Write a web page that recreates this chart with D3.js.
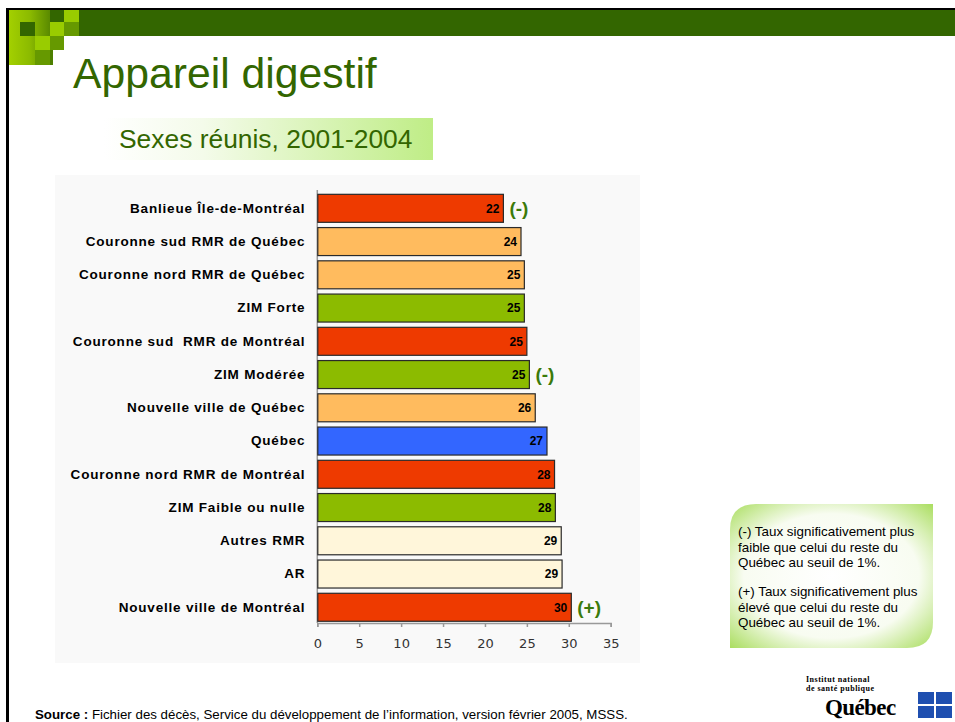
<!DOCTYPE html>
<html><head><meta charset="utf-8">
<script src="https://cdn.jsdelivr.net/npm/d3@7"></script>
<style>
html,body{margin:0;padding:0;background:#fff;}
svg{display:block;font-family:"Liberation Sans",Arial,sans-serif;}
text{white-space:pre;}
</style></head>
<body>
<script>
const categories = ["Banlieue Île-de-Montréal","Couronne sud RMR de Québec","Couronne nord RMR de Québec","ZIM Forte","Couronne sud  RMR de Montréal","ZIM Modérée","Nouvelle ville de Québec","Québec","Couronne nord RMR de Montréal","ZIM Faible ou nulle","Autres RMR","AR","Nouvelle ville de Montréal"];
const values = [22.2,24.3,24.7,24.7,25.0,25.3,26.0,27.4,28.3,28.4,29.1,29.2,30.3];
const valueLabels = ["22","24","25","25","25","25","26","27","28","28","29","29","30"];
const signif = ["(-)","","","","","(-)","","","","","","","(+)"];
const groups = ["montreal","quebec","quebec","zim","montreal","zim","quebec","province","montreal","zim","other","other","montreal"];
const groupColors = {montreal:"#ee3a00", quebec:"#ffbb5e", zim:"#8cbb00", province:"#3366ff", other:"#fff6da"};
const xTicks = [0,5,10,15,20,25,30,35];
const legendLines = [["(-) Taux significativement plus","faible que celui du reste du","Québec au seuil de 1%."],["(+) Taux significativement plus","élevé que celui du reste du","Québec au seuil de 1%."]];

const W=955,H=722;
const svg=d3.select("body").append("svg").attr("width",W).attr("height",H);
const defs=svg.append("defs");

// frame
svg.append("rect").attr("x",8).attr("y",10).attr("width",W-8).attr("height",26).attr("fill","#336600");
svg.append("rect").attr("x",6).attr("y",8).attr("width",W-6).attr("height",2).attr("fill","#000");
svg.append("rect").attr("x",6).attr("y",8).attr("width",3).attr("height",H-8).attr("fill","#000");

// logo squares
const lg=defs.append("linearGradient").attr("id","lg").attr("x1","0").attr("x2","1").attr("y1","0").attr("y2","0");
lg.append("stop").attr("offset","0").attr("stop-color","#a3d000");
lg.append("stop").attr("offset","0.5").attr("stop-color","#8cbb00");
lg.append("stop").attr("offset","1").attr("stop-color","#5a8a00");
svg.append("rect").attr("x",9).attr("y",10).attr("width",41).attr("height",55).attr("fill","url(#lg)");
const sq=[[20,22,15,14,"#336600"],[50,10,14,12,"#336600"],[64,10,15,12,"#99cc00"],[50,22,14,14,"#99cc00"],[64,22,15,14,"#669900"],[50,36,14,14,"#669900"],[35,36,15,14,"#99cc00"],[35,50,15,15,"#669900"],[50,50,3,15,"#4d7f00"]];
svg.selectAll("rect.sq").data(sq).join("rect").attr("class","sq")
  .attr("x",d=>d[0]).attr("y",d=>d[1]).attr("width",d=>d[2]).attr("height",d=>d[3]).attr("fill",d=>d[4]);

// title
svg.append("text").attr("x",73).attr("y",88).attr("font-size",42.7).attr("fill","#336600").text("Appareil digestif");

// subtitle box
const sg=defs.append("linearGradient").attr("id","sg").attr("x1","0").attr("x2","1");
sg.append("stop").attr("offset","0").attr("stop-color","#ffffff");
sg.append("stop").attr("offset","0.3").attr("stop-color","#f4fbea");
sg.append("stop").attr("offset","1").attr("stop-color","#bfed86");
svg.append("rect").attr("x",104).attr("y",118).attr("width",329).attr("height",42).attr("fill","url(#sg)");
svg.append("text").attr("x",119).attr("y",148).attr("font-size",26.4).attr("fill","#336600").text("Sexes réunis, 2001-2004");

// chart bg
svg.append("rect").attr("x",55).attr("y",175).attr("width",585).attr("height",488).attr("fill","#f9f9f9");

const x=d3.scaleLinear().domain([0,35]).range([317.3,610.7]);
const y=d3.scaleBand().domain(categories).range([191.7,623.9]).paddingInner(0.158).paddingOuter(0.079);

// axes
const xAxis=svg.append("g").attr("transform","translate(0,623)")
  .call(d3.axisBottom(x).tickValues(xTicks).tickSize(4).tickSizeOuter(4));
xAxis.select(".domain").attr("stroke","#999").attr("stroke-width",1.5);
xAxis.selectAll(".tick line").attr("stroke","#999").attr("stroke-width",1.5);
xAxis.selectAll(".tick text").attr("font-family","'DejaVu Sans',sans-serif").attr("font-size",13).attr("fill","#333").attr("y",25).attr("dy","0");

const yAxis=svg.append("g").attr("transform","translate(317.3,0)")
  .call(d3.axisLeft(y).tickSize(0).tickPadding(12));
yAxis.select(".domain").attr("stroke","#999").attr("stroke-width",1.5).attr("d","M0,190V623");
yAxis.selectAll(".tick text").attr("font-size",13.5).attr("font-weight","bold").attr("fill","#000")
  .attr("letter-spacing",0.8).attr("font-family","'Liberation Sans',Arial,sans-serif");

// bars
const rows=categories.map((c,i)=>({c,v:values[i],l:valueLabels[i],s:signif[i],g:groups[i]}));
svg.append("g").selectAll("rect").data(rows).join("rect")
  .attr("x",x(0)+0.5).attr("y",d=>y(d.c)).attr("width",d=>x(d.v)-x(0)-0.5).attr("height",y.bandwidth())
  .attr("fill",d=>groupColors[d.g]).attr("stroke","#2a2a2a").attr("stroke-width",1.2);
svg.append("g").selectAll("text").data(rows).join("text")
  .attr("x",d=>x(d.v)-4).attr("y",d=>y(d.c)+y.bandwidth()/2).attr("dy","0.36em")
  .attr("text-anchor","end").attr("font-size",12).attr("font-weight","bold").attr("fill","#000").text(d=>d.l);
svg.append("g").selectAll("text").data(rows.filter(d=>d.s)).join("text")
  .attr("x",d=>x(d.v)+6).attr("y",d=>y(d.c)+y.bandwidth()/2).attr("dy","0.36em")
  .attr("font-size",19).attr("font-weight","bold").attr("fill","#3b7a0a").text(d=>d.s);

// legend box
const rg=defs.append("radialGradient").attr("id","rg").attr("cx","0.5").attr("cy","0.5").attr("r","0.72");
rg.append("stop").attr("offset","0").attr("stop-color","#ffffff");
rg.append("stop").attr("offset","0.6").attr("stop-color","#f8fcf1");
rg.append("stop").attr("offset","1").attr("stop-color","#a6dc58");
const bx=730,by=504,bw=203,bh=144,r=26;
svg.append("path").attr("d",`M${bx},${by+r}Q${bx},${by} ${bx+r},${by}H${bx+bw}V${by+bh-r}Q${bx+bw},${by+bh} ${bx+bw-r},${by+bh}H${bx}Z`)
  .attr("fill","url(#rg)");
const lt=svg.append("g").attr("font-size",13.4).attr("fill","#000");
legendLines.forEach((para,pi)=>para.forEach((line,li)=>{
  lt.append("text").attr("x",738).attr("y",536+pi*60+li*15.5).text(line);
}));

// source
const src=svg.append("text").attr("x",35).attr("y",719).attr("font-size",13.3).attr("fill","#000");
src.append("tspan").attr("font-weight","bold").text("Source :");
src.append("tspan").text(" Fichier des décès, Service du développement de l’information, version février 2005, MSSS.");

// Québec logo
const qg=svg.append("g").attr("font-family","'Liberation Serif',serif").attr("font-weight","bold");
qg.append("text").attr("x",806).attr("y",682).attr("font-size",8).attr("letter-spacing",0.5).text("Institut national");
qg.append("text").attr("x",806).attr("y",691).attr("font-size",8).attr("letter-spacing",0.5).text("de santé publique");
qg.append("text").attr("x",825).attr("y",715).attr("font-size",23).attr("letter-spacing",-0.6).text("Québec");
const fl=[[918,692],[936,692],[918,706],[936,706]];
qg.selectAll("rect").data(fl).join("rect").attr("x",d=>d[0]).attr("y",d=>d[1]).attr("width",16).attr("height",12).attr("fill","#1f4fb0");
</script>
</body></html>
